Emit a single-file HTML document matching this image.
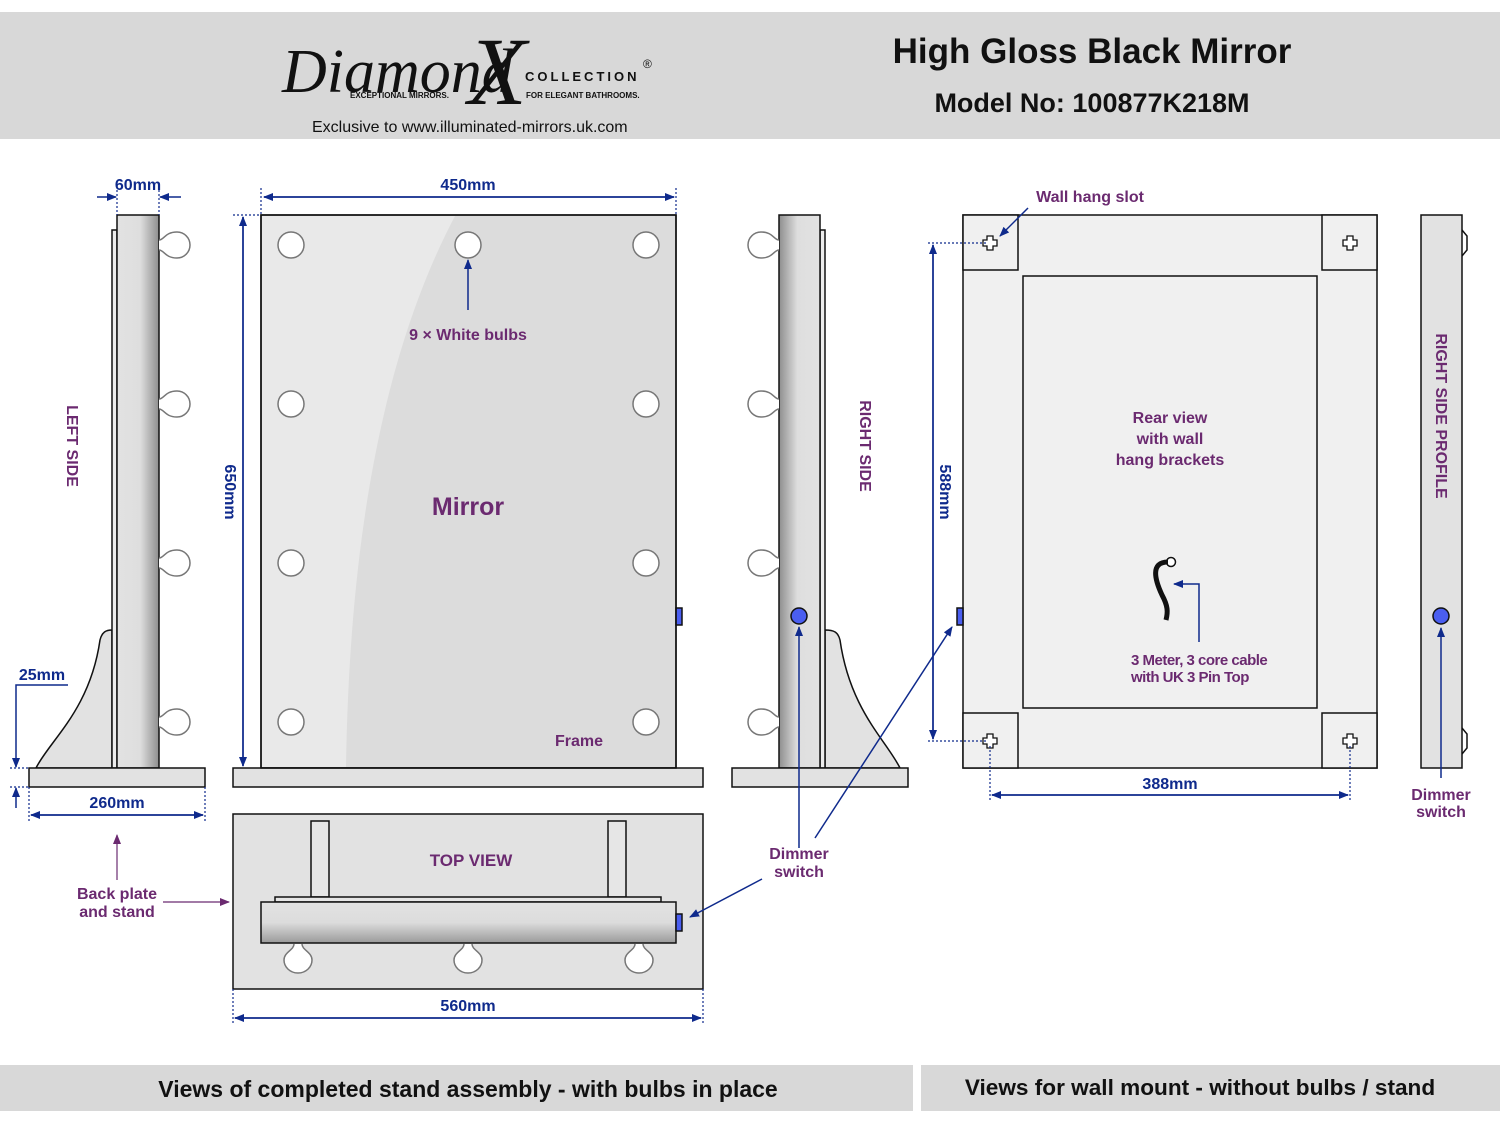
<!DOCTYPE html>
<html><head><meta charset="utf-8"><style>
html,body{margin:0;padding:0;background:#fff;}
svg{display:block;font-family:"Liberation Sans",Arial,sans-serif;}
.p{fill:#6b2a70;font-weight:bold;}
.b{fill:#0f2a8c;font-weight:bold;}
</style></head><body>
<svg width="1500" height="1126" viewBox="0 0 1500 1126" xmlns="http://www.w3.org/2000/svg">
<defs>
<linearGradient id="col" x1="0" x2="1" y1="0" y2="0">
<stop offset="0" stop-color="#e2e2e2"/><stop offset="0.55" stop-color="#dedede"/><stop offset="1" stop-color="#8e8e8e"/></linearGradient>
<linearGradient id="colr" x1="1" x2="0" y1="0" y2="0">
<stop offset="0" stop-color="#e2e2e2"/><stop offset="0.55" stop-color="#dedede"/><stop offset="1" stop-color="#8e8e8e"/></linearGradient>
<linearGradient id="bar" x1="0" x2="0" y1="0" y2="1">
<stop offset="0" stop-color="#e2e2e2"/><stop offset="0.5" stop-color="#dcdcdc"/><stop offset="1" stop-color="#9a9a9a"/></linearGradient>
<marker id="ar" markerWidth="10" markerHeight="8" refX="9" refY="4" orient="auto" markerUnits="userSpaceOnUse">
<path d="M0,0 L10,4 L0,8 z" fill="#0f2a8c"/></marker>
<marker id="arp" markerWidth="10" markerHeight="8" refX="9" refY="4" orient="auto" markerUnits="userSpaceOnUse">
<path d="M0,0 L10,4 L0,8 z" fill="#6b2a70"/></marker>
<g id="bulbR"><path d="M0,-5 C5,-5 6,-13 18,-13 A13,13 0 1 1 18,13 C6,13 5,5 0,5" fill="#fff" stroke="#777" stroke-width="1.5"/></g>
</defs>

<!-- header -->
<rect x="0" y="12" width="1500" height="127" fill="#d8d8d8"/>
<text x="282" y="92" font-family="Liberation Serif,serif" font-style="italic" font-size="62" fill="#111">Diamond</text>
<text x="468" y="104" font-family="Liberation Serif,serif" font-style="italic" font-size="96" fill="#111">X</text>
<text x="350" y="98" font-size="8" font-weight="bold" fill="#111">EXCEPTIONAL MIRRORS.</text>
<text x="525" y="81" font-size="13" font-weight="bold" letter-spacing="3" fill="#111">COLLECTION</text>
<text x="643" y="68" font-size="12" fill="#111">®</text>
<text x="526" y="98" font-size="8" font-weight="bold" fill="#111">FOR ELEGANT BATHROOMS.</text>
<text x="312" y="132" font-size="16" fill="#111">Exclusive to www.illuminated-mirrors.uk.com</text>
<text x="1092" y="63" text-anchor="middle" font-size="35" font-weight="bold" fill="#111">High Gloss Black Mirror</text>
<text x="1092" y="112" text-anchor="middle" font-size="27" font-weight="bold" fill="#111">Model No: 100877K218M</text>

<!-- footer -->
<rect x="0" y="1065" width="913" height="46" fill="#d8d8d8"/>
<rect x="921" y="1065" width="579" height="46" fill="#d8d8d8"/>
<text x="468" y="1097" text-anchor="middle" font-size="23" font-weight="bold" fill="#111">Views of completed stand assembly - with bulbs in place</text>
<text x="1200" y="1095" text-anchor="middle" font-size="22.6" font-weight="bold" fill="#111">Views for wall mount - without bulbs / stand</text>

<g stroke="#111" stroke-width="1.5">
<!-- left side -->
<path d="M36,768 C50,740 90,710 100,640 C102,632 106,630 112,630 L112,768 z" fill="#e2e2e2"/>
<rect x="112" y="230" width="5" height="538" fill="#ececec"/>
<rect x="117" y="215" width="42" height="553" fill="url(#col)"/>
<rect x="29" y="768" width="176" height="19" fill="#e2e2e2"/>
<!-- front -->
<rect x="261" y="215" width="415" height="553" fill="#dcdcdc"/>
<rect x="233" y="768" width="470" height="19" fill="#e2e2e2"/>
<rect x="676" y="608" width="6" height="17" fill="#4a5ef0"/>
<!-- right side -->
<path d="M900,768 C886,740 850,710 840,640 C838,632 834,630 825,630 L825,768 z" fill="#e2e2e2"/>
<rect x="820" y="230" width="5" height="538" fill="#ececec"/>
<rect x="779" y="215" width="41" height="553" fill="url(#colr)"/>
<rect x="732" y="768" width="176" height="19" fill="#e2e2e2"/>
<circle cx="799" cy="616" r="8" fill="#4a5ef0"/>
<!-- top view -->
<rect x="233" y="814" width="470" height="175" fill="#e2e2e2"/>
<rect x="311" y="821" width="18" height="76" fill="#e6e6e6"/>
<rect x="608" y="821" width="18" height="76" fill="#e6e6e6"/>
<rect x="275" y="897" width="386" height="5" fill="#e6e6e6"/>
<rect x="261" y="902" width="415" height="41" fill="url(#bar)"/>
<rect x="676" y="914" width="6" height="17" fill="#4a5ef0"/>
<!-- rear -->
<rect x="963" y="215" width="414" height="553" fill="#f0f0f0"/>
<rect x="963" y="215" width="55" height="55" fill="#f0f0f0"/>
<rect x="1322" y="215" width="55" height="55" fill="#f0f0f0"/>
<rect x="963" y="713" width="55" height="55" fill="#f0f0f0"/>
<rect x="1322" y="713" width="55" height="55" fill="#f0f0f0"/>
<rect x="1023" y="276" width="294" height="432" fill="#f0f0f0"/>
<rect x="957" y="608" width="6" height="17" fill="#4a5ef0"/>
<!-- profile -->
<path d="M1462,230 L1467,236 L1467,250 L1462,256" fill="none"/>
<path d="M1462,728 L1467,734 L1467,748 L1462,754" fill="none"/>
<rect x="1421" y="215" width="41" height="553" fill="#e2e2e2"/>
<circle cx="1441" cy="616" r="8" fill="#4a5ef0"/>
</g>
<!-- mirror sheen -->
<path d="M262,216 L455,216 C395,330 350,500 346,767 L262,767 z" fill="#e9e9e9"/>
<rect x="261" y="215" width="415" height="553" fill="none" stroke="#111" stroke-width="1.5"/>

<!-- bulbs front -->
<g fill="#fff" stroke="#777" stroke-width="1.5">
<circle cx="291" cy="245" r="13"/><circle cx="468" cy="245" r="13"/><circle cx="646" cy="245" r="13"/>
<circle cx="291" cy="404" r="13"/><circle cx="646" cy="404" r="13"/>
<circle cx="291" cy="563" r="13"/><circle cx="646" cy="563" r="13"/>
<circle cx="291" cy="722" r="13"/><circle cx="646" cy="722" r="13"/>
</g>
<!-- side bulbs -->
<use href="#bulbR" x="159" y="245"/><use href="#bulbR" x="159" y="404"/><use href="#bulbR" x="159" y="563"/><use href="#bulbR" x="159" y="722"/>
<g transform="translate(1558,0) scale(-1,1)">
<use href="#bulbR" x="779" y="245"/><use href="#bulbR" x="779" y="404"/><use href="#bulbR" x="779" y="563"/><use href="#bulbR" x="779" y="722"/>
</g>
<!-- top view bulbs -->
<g fill="#fff" stroke="#777" stroke-width="1.5">
<path d="M294,944 C294,950 284,952 284,960 C284,967 290,973 298,973 C306,973 312,967 312,960 C312,952 302,950 302,944"/>
<path d="M464,944 C464,950 454,952 454,960 C454,967 460,973 468,973 C476,973 482,967 482,960 C482,952 472,950 472,944"/>
<path d="M635,944 C635,950 625,952 625,960 C625,967 631,973 639,973 C647,973 653,967 653,960 C653,952 643,950 643,944"/>
</g>
<!-- crosses -->
<g fill="#fff" stroke="#111" stroke-width="1.3">
<path id="cr" d="M987,236 h6 v4 h4 v6 h-4 v4 h-6 v-4 h-4 v-6 h4 z"/>
<use href="#cr" x="360" y="0"/><use href="#cr" x="0" y="498"/><use href="#cr" x="360" y="498"/>
</g>
<!-- cable -->
<circle cx="1171" cy="562" r="4.5" fill="#fff" stroke="#111" stroke-width="1.5"/>
<path d="M1168,562 C1150,562 1155,580 1162,595 C1168,606 1168,612 1166,620" fill="none" stroke="#111" stroke-width="5"/>

<!-- dimensions -->
<g stroke="#0f2a8c" stroke-width="1.5" fill="none">
<line x1="97" y1="197" x2="116" y2="197" marker-end="url(#ar)"/>
<line x1="181" y1="197" x2="160" y2="197" marker-end="url(#ar)"/>
<line x1="264" y1="197" x2="674" y2="197" marker-end="url(#ar)"/>
<line x1="674" y1="197" x2="264" y2="197" marker-end="url(#ar)"/>
<line x1="243" y1="217" x2="243" y2="766" marker-end="url(#ar)"/>
<line x1="243" y1="766" x2="243" y2="217" marker-end="url(#ar)"/>
<line x1="31" y1="815" x2="203" y2="815" marker-end="url(#ar)"/>
<line x1="203" y1="815" x2="31" y2="815" marker-end="url(#ar)"/>
<polyline points="68,685 16,685 16,767" marker-end="url(#ar)"/>
<line x1="16" y1="808" x2="16" y2="788" marker-end="url(#ar)"/>
<line x1="235" y1="1018" x2="701" y2="1018" marker-end="url(#ar)"/>
<line x1="701" y1="1018" x2="235" y2="1018" marker-end="url(#ar)"/>
<line x1="933" y1="245" x2="933" y2="739" marker-end="url(#ar)"/>
<line x1="933" y1="739" x2="933" y2="245" marker-end="url(#ar)"/>
<line x1="992" y1="795" x2="1348" y2="795" marker-end="url(#ar)"/>
<line x1="1348" y1="795" x2="992" y2="795" marker-end="url(#ar)"/>
<line x1="468" y1="310" x2="468" y2="260" marker-end="url(#ar)"/>
<line x1="799" y1="848" x2="799" y2="627" marker-end="url(#ar)"/>
<line x1="815" y1="838" x2="952" y2="627" marker-end="url(#ar)"/>
<line x1="762" y1="879" x2="690" y2="917" marker-end="url(#ar)"/>
<line x1="1028" y1="208" x2="1000" y2="236" marker-end="url(#ar)"/>
<polyline points="1199,642 1199,584 1174,584" marker-end="url(#ar)"/>
<line x1="1441" y1="778" x2="1441" y2="628" marker-end="url(#ar)"/>
</g>
<g stroke="#0f2a8c" stroke-width="1.2" stroke-dasharray="2,2" fill="none">
<line x1="117" y1="190" x2="117" y2="215"/><line x1="159" y1="190" x2="159" y2="215"/>
<line x1="261" y1="188" x2="261" y2="215"/><line x1="676" y1="188" x2="676" y2="215"/>
<line x1="233" y1="215" x2="261" y2="215"/>
<line x1="29" y1="787" x2="29" y2="822"/><line x1="205" y1="787" x2="205" y2="822"/>
<line x1="10" y1="768" x2="30" y2="768"/><line x1="10" y1="787" x2="30" y2="787"/>
<line x1="233" y1="989" x2="233" y2="1025"/><line x1="703" y1="989" x2="703" y2="1025"/>
<line x1="928" y1="243" x2="986" y2="243"/><line x1="928" y1="741" x2="986" y2="741"/>
<line x1="990" y1="746" x2="990" y2="800"/><line x1="1350" y1="746" x2="1350" y2="800"/>
</g>
<g stroke="#6b2a70" stroke-width="1.2">
<line x1="117" y1="880" x2="117" y2="835" marker-end="url(#arp)"/>
<line x1="163" y1="902" x2="229" y2="902" marker-end="url(#arp)"/>
</g>

<!-- labels -->
<text class="b" x="138" y="190" font-size="16" text-anchor="middle">60mm</text>
<text class="b" x="468" y="190" font-size="16" text-anchor="middle">450mm</text>
<text class="b" x="42" y="680" font-size="16" text-anchor="middle">25mm</text>
<text class="b" x="117" y="808" font-size="16" text-anchor="middle">260mm</text>
<text class="b" x="468" y="1011" font-size="16" text-anchor="middle">560mm</text>
<text class="b" x="1170" y="789" font-size="16" text-anchor="middle">388mm</text>
<text class="b" font-size="16" text-anchor="middle" transform="translate(225,492) rotate(90)">650mm</text>
<text class="b" font-size="16" text-anchor="middle" transform="translate(940,492) rotate(90)">588mm</text>
<text class="p" font-size="16" text-anchor="middle" transform="translate(67,446) rotate(90)">LEFT SIDE</text>
<text class="p" font-size="16" text-anchor="middle" transform="translate(860,446) rotate(90)">RIGHT SIDE</text>
<text class="p" font-size="16" text-anchor="middle" transform="translate(1436,416) rotate(90)">RIGHT SIDE PROFILE</text>
<text class="p" x="468" y="340" font-size="16" text-anchor="middle">9 × White bulbs</text>
<text class="p" x="468" y="515" font-size="25" text-anchor="middle">Mirror</text>
<text class="p" x="579" y="746" font-size="16" text-anchor="middle">Frame</text>
<text class="p" x="471" y="866" font-size="17" text-anchor="middle">TOP VIEW</text>
<text class="p" x="117" y="899" font-size="16" text-anchor="middle">Back plate</text>
<text class="p" x="117" y="917" font-size="16" text-anchor="middle">and stand</text>
<text class="p" x="799" y="859" font-size="16" text-anchor="middle">Dimmer</text>
<text class="p" x="799" y="877" font-size="16" text-anchor="middle">switch</text>
<text class="p" x="1441" y="800" font-size="16" text-anchor="middle">Dimmer</text>
<text class="p" x="1441" y="817" font-size="16" text-anchor="middle">switch</text>
<text class="p" x="1090" y="202" font-size="16" text-anchor="middle">Wall hang slot</text>
<text class="p" x="1170" y="423" font-size="16" text-anchor="middle">Rear view</text>
<text class="p" x="1170" y="444" font-size="16" text-anchor="middle">with wall</text>
<text class="p" x="1170" y="465" font-size="16" text-anchor="middle">hang brackets</text>
<text class="p" x="1131" y="665" font-size="15" letter-spacing="-0.5">3 Meter, 3 core cable</text>
<text class="p" x="1131" y="682" font-size="15" letter-spacing="-0.5">with UK 3 Pin Top</text>
</svg>
</body></html>
